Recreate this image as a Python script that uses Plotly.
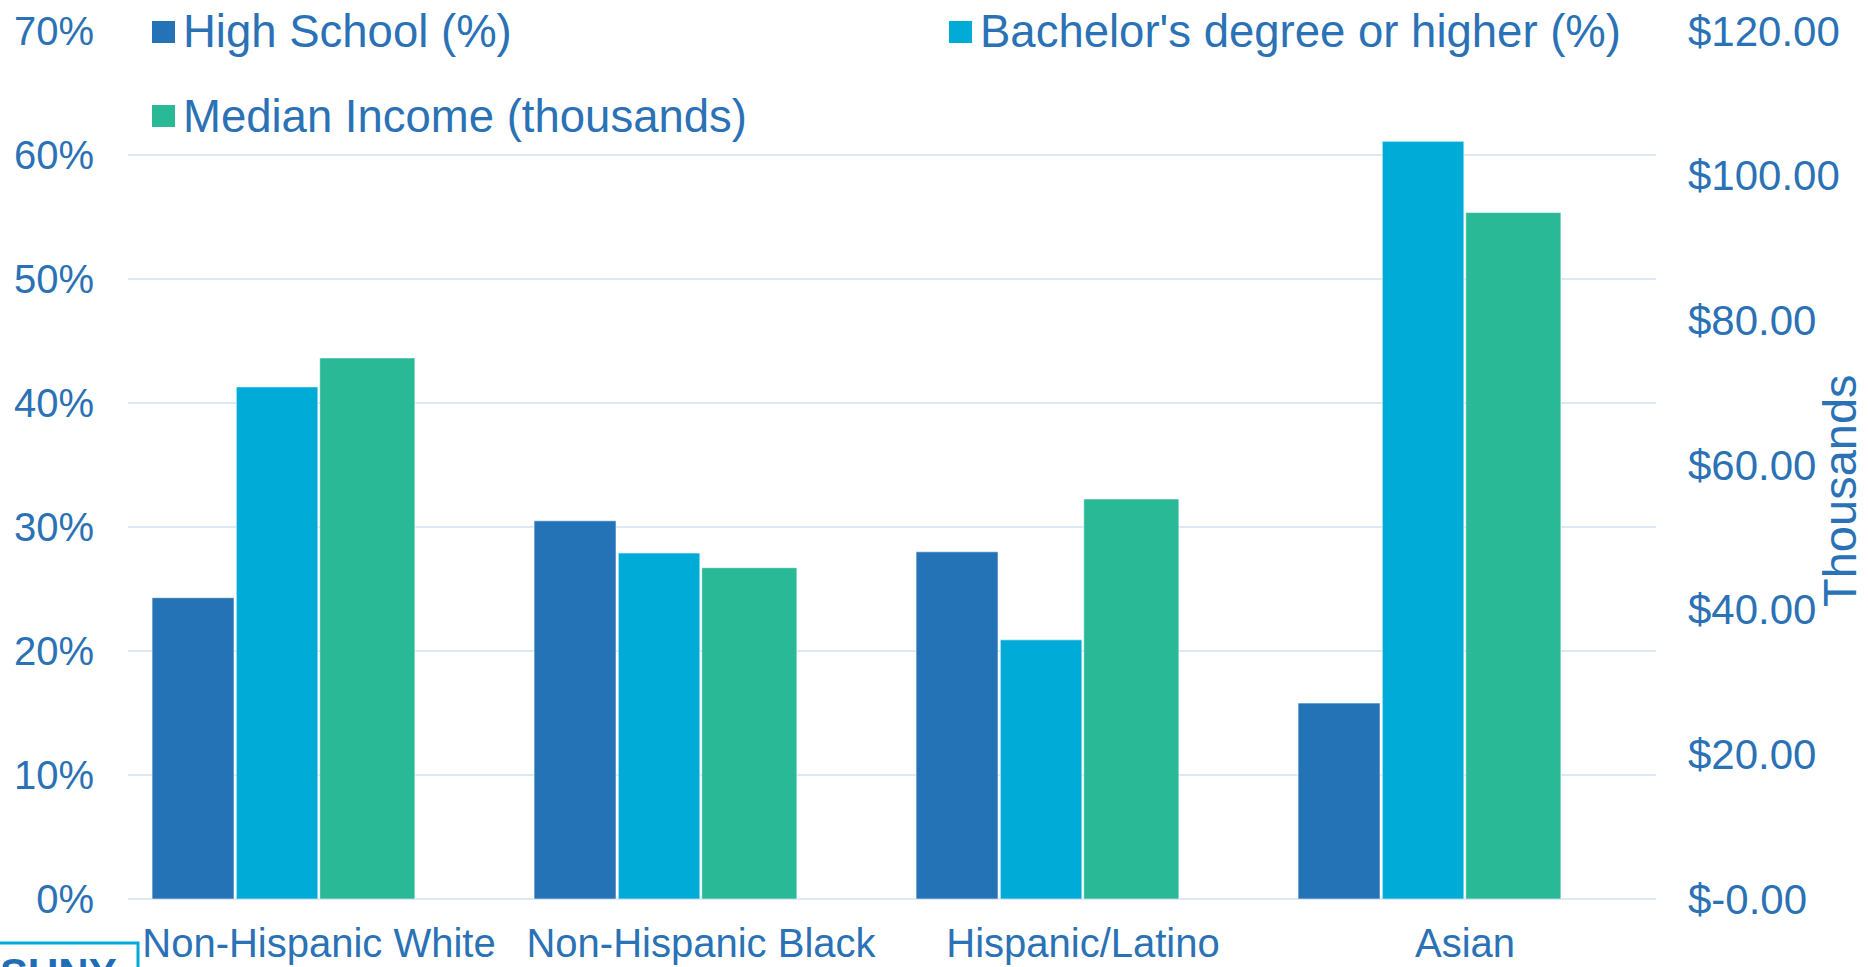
import plotly.graph_objects as go

# ---- data -------------------------------------------------------------
categories = ["Non-Hispanic White", "Non-Hispanic Black", "Hispanic/Latino", "Asian"]
high_school_pct = [24.3, 30.5, 28.0, 15.8]
bachelors_pct = [41.3, 27.9, 20.9, 61.1]
median_income_k = [74.8, 45.8, 55.3, 94.9]

pct_tick_vals = [0, 10, 20, 30, 40, 50, 60, 70]
pct_tick_text = ["0%", "10%", "20%", "30%", "40%", "50%", "60%", "70%"]
income_tick_vals = [0, 20, 40, 60, 80, 100, 120]
income_tick_text = ["$-0.00", "$20.00", "$40.00", "$60.00", "$80.00", "$100.00", "$120.00"]

series_names = ["High School (%)", "Bachelor's degree or higher (%)", "Median Income (thousands)"]

# ---- styling ----------------------------------------------------------
W, H = 1868, 967
PL, PR, PT, PB = 128, 1656, 31, 899          # plot area edges in pixels
FONT = "Liberation Sans, Arial, Helvetica, sans-serif"
TEXT = "#2A72B5"
C_HS = "#2573B7"
C_BA = "#00ACD7"
C_INC = "#2AB996"
GRID = "#DCE8F5"


def px_x(px):
    return (px - PL) / (PR - PL)


def px_y(py):
    return (PB - py) / (PB - PT)


fig = go.Figure()

edge = dict(color="rgba(255,255,255,0.55)", width=1)
fig.add_trace(go.Bar(x=categories, y=high_school_pct, name=series_names[0],
                     offset=-0.437, width=0.2145, marker=dict(color=C_HS, line=edge),
                     yaxis="y"))
fig.add_trace(go.Bar(x=categories, y=bachelors_pct, name=series_names[1],
                     offset=-0.2165, width=0.2135, marker=dict(color=C_BA, line=edge),
                     yaxis="y"))
fig.add_trace(go.Bar(x=categories, y=median_income_k, name=series_names[2],
                     offset=0.002, width=0.249, marker=dict(color=C_INC, line=edge),
                     yaxis="y2"))

# ---- hand-placed legend -------------------------------------------------
legend_items = [
    (series_names[0], C_HS, 152, 32),
    (series_names[1], C_BA, 949, 32),
    (series_names[2], C_INC, 152, 116),
]
shapes = []
annotations = []
for label, color, mx, my in legend_items:
    shapes.append(dict(type="rect", xref="paper", yref="paper",
                       x0=px_x(mx), x1=px_x(mx + 23), y0=px_y(my + 11), y1=px_y(my - 11),
                       fillcolor=color, line=dict(width=0), layer="above"))
    annotations.append(dict(text=label, xref="paper", yref="paper",
                            x=px_x(mx + 29), y=px_y(my), xanchor="left", yanchor="middle",
                            showarrow=False, font=dict(family=FONT, size=45.5, color=TEXT)))

# secondary axis title
annotations.append(dict(text="Thousands", xref="paper", yref="paper",
                        x=px_x(1839), y=px_y(491), textangle=-90,
                        xanchor="center", yanchor="middle", showarrow=False,
                        borderpad=0,
                        font=dict(family=FONT, size=47, color=TEXT)))

# logo box in the lower-left corner
shapes.append(dict(type="rect", xref="paper", yref="paper",
                   x0=px_x(-20), x1=px_x(138), y0=px_y(1010), y1=px_y(943),
                   line=dict(color=C_BA, width=3), fillcolor="rgba(0,0,0,0)"))
annotations.append(dict(text="<b>SUNY</b>", xref="paper", yref="paper",
                        x=px_x(58), y=px_y(948), xanchor="center", yanchor="top",
                        showarrow=False, font=dict(family=FONT, size=42, color="#1F6DB4")))

fig.update_layout(
    width=W, height=H,
    template="none",
    paper_bgcolor="white", plot_bgcolor="white",
    margin=dict(l=PL, r=W - PR, t=PT, b=H - PB, pad=0, autoexpand=False),
    barmode="overlay",
    showlegend=False,
    font=dict(family=FONT, color=TEXT),
    xaxis=dict(type="category", range=[-0.5, 3.5], showgrid=False, zeroline=False,
               showline=False, ticks="", automargin=False,
               tickfont=dict(family=FONT, size=40, color=TEXT), ticklabelstandoff=17),
    yaxis=dict(range=[0, 70], tickvals=pct_tick_vals, ticktext=pct_tick_text,
               showgrid=True, gridcolor=GRID, gridwidth=2,
               zeroline=True, zerolinecolor=GRID, zerolinewidth=2,
               showline=False, ticks="", automargin=False,
               tickfont=dict(family=FONT, size=40, color=TEXT), ticklabelstandoff=33),
    yaxis2=dict(range=[0, 120], tickvals=income_tick_vals, ticktext=income_tick_text,
                overlaying="y", side="right", showgrid=False, zeroline=False,
                showline=False, ticks="", automargin=False,
                tickfont=dict(family=FONT, size=42, color=TEXT), ticklabelstandoff=31),
    shapes=shapes,
    annotations=annotations,
)

fig.write_html("out.html")
